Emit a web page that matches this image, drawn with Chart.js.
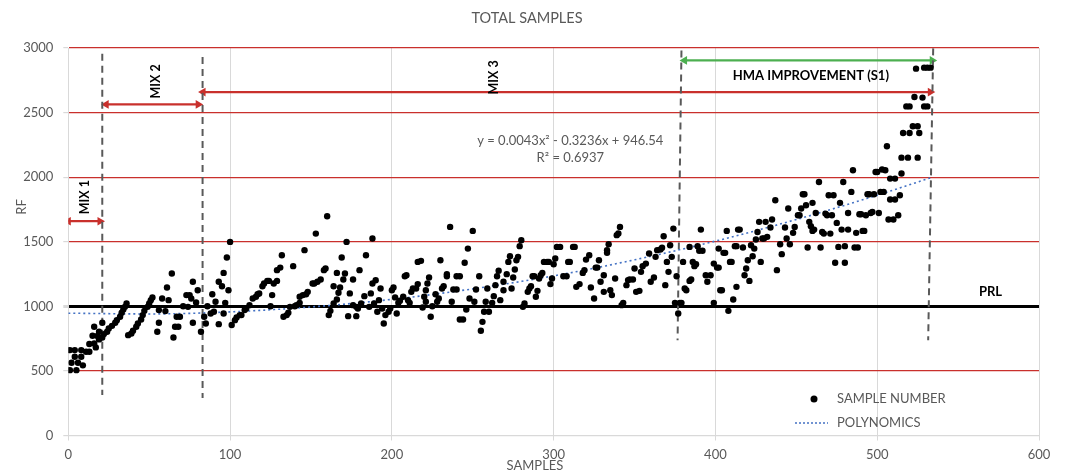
<!DOCTYPE html>
<html>
<head>
<meta charset="utf-8">
<script src="https://cdn.jsdelivr.net/npm/chart.js@4.4.0/dist/chart.umd.min.js"></script>
<style>
body{margin:0;background:#fff;}
#wrap{width:1065px;height:474px;position:relative;}
</style>
</head>
<body>
<div id="wrap"><canvas id="myChart"></canvas></div>
<script>
// [sample number, RF]
var samples = [
 [1,506],[5,506],[2,563],[6,563],[9,543],[4,610],[8,610],[1,661],[4,661],[8,661],[11,648],[13,648],[13,708],[16,713],[17,682],[15,772],[18,770],[16,842],[21,873],[19,803],
 [19,744],[21,759],[22,785],[24,803],[25,829],[27,849],[29,873],[30,893],[32,919],[33,950],[34,976],[35,996],[36,1022],
 [37,777],[39,790],[40,811],[42,842],[43,867],[45,898],[46,932],[47,965],[49,996],[50,1022],[51,1048],[52,1069],
 [55,803],[56,873],[56,971],[58,1061],[60,963],[62,1048],[61,1146],[64,1254],[66,842],[68,842],[65,759],[67,919],[69,919],[71,1001],[74,996],[73,1087],[75,1087],[76,1061],[77,1190],[79,1030],[77,873],[82,803],[80,1125],
 [84,919],[85,867],[86,1001],[88,945],[90,958],[89,1094],[91,1035],[93,1190],[93,862],[95,1156],[96,945],[96,1259],[97,1027],[98,1378],[99,1125],[100,1499],[101,855],[103,893],[104,914],[106,932],[107,932],[109,971],[110,983],[112,1009],[114,1061],[116,1074],[117,1094],[118,1100],[120,1156],[121,1177],[123,1197],[124,1197],[125,1001],[126,1087],[127,1177],[129,1197],[129,1280],[131,1300],[132,1396],[133,919],[135,932],[136,950],[137,996],[139,1311],[140,1001],[141,1009],[143,1027],[143,1074],[145,1087],[146,1435],[147,1094],[148,1112],[151,1177],[152,1177],[153,1563],[154,1190],[156,1208],[158,1280],[159,1293],[160,1698],[161,932],[162,965],[164,1156],[164,1022],[166,1053],[166,1259],[167,1105],[168,1146],[169,1378],[170,1208],[171,1254],[172,1499],[173,924],[174,1100],
 [176,1208],[178,924],[176,1009],[178,996],[179,983],[180,1280],[181,1022],[183,1079],[184,1396],[186,996],[187,1100],[188,1177],[188,1525],[189,1022],[190,1202],[191,958],[192,1048],[193,1138],[194,983],[195,867],[196,932],[198,958],[199,983],[200,1125],[201,1146],[202,1069],[203,945],[204,1027],[205,1043],[207,1074],[208,1233],[209,1241],[210,1048],[211,1027],[212,1112],[213,1138],[215,1138],[216,1172],[216,1344],[218,1352],[219,991],[220,1074],[221,1035],[221,1125],[222,1177],[223,1223],[224,919],[225,1001],[227,1094],[228,1035],[229,1061],[230,1357],[231,1138],[232,1156],[234,1233],[234,1249],[236,1615],[237,1035],[238,1130],[240,1130],[240,1233],[242,1233],[242,898],[244,898],[245,1337],[246,976],[247,1447],[248,1061],[250,1584],[251,1035],[252,1130],[254,1233],
 [255,811],[256,880],[257,958],[258,1035],[259,1138],[260,958],[262,1027],[263,1079],[264,1164],[265,1233],[266,1275],[267,1048],[269,1125],[269,1190],[271,1249],[272,1344],[273,1388],[274,1138],[275,1223],[276,1285],[277,1357],[278,1383],[279,1466],[280,1512],[281,996],[282,1022],[284,1112],[285,1138],[286,1156],[287,1233],[288,1233],[289,1074],[290,1120],[291,1215],[292,1241],[293,1259],[294,1344],[296,1344],[297,1344],[298,1172],[299,1215],[300,1326],[301,1370],[302,1460],[304,1460],[306,1233],[308,1233],[309,1344],[310,1344],[312,1460],[313,1460],[314,1151],[316,1172],[318,1259],[319,1280],[320,1362],[322,1396],[323,1146],[325,1061],[326,1300],[327,1300],[328,1357],[329,1190],[331,1241],[331,1112],[333,1414],[333,1435],[334,1481],[335,1125],[336,1087],[338,1215],[339,1551],[340,1564],[341,1615],[342,1009],[343,1027],[345,1164],[346,1203],
 [347,1208],[349,1208],[350,1293],[351,1112],[353,1120],[354,1267],[355,1311],[357,1331],[359,1409],[360,1190],[362,1223],[363,1383],[364,1435],[366,1440],[367,1453],[368,1543],[369,1164],[370,1344],[371,1267],[372,1473],[373,1383],[374,1602],[375,1027],[376,1233],[377,945],[378,1027],[379,1027],[380,1344],[381,1138],[382,1125],[384,1460],[384,1197],[385,1208],[386,1344],[387,1311],[388,1326],[389,1466],[390,1430],[391,1594],[392,1430],[394,1241],[395,1190],[397,1241],[399,1027],[399,1331],[401,1300],[402,1300],[402,1447],[403,1125],[404,1125],[405,1414],[406,1414],[407,1584],[408,965],[409,1344],[410,1344],[411,1053],[412,1466],[413,1466],[413,1151],[414,1594],[415,1594],[417,1455],[418,1241],[419,1293],[420,1357],[421,1197],[422,1473],[423,1388],[424,1447],[425,1517],[426,1576],
 [427,1654],[428,1344],[429,1525],[430,1525],[431,1654],[432,1538],[434,1610],
 [435,1672],[437,1821],[438,1280],[440,1481],[441,1404],[443,1610],[444,1525],[445,1757],[446,1481],[448,1569],[449,1615],[451,1705],[452,1705],[453,1757],[454,1868],[455,1868],[456,1783],[457,1455],[458,1654],[459,1620],[460,1584],[460,1801],[461,1594],[462,1723],[464,1963],[465,1455],[466,1576],[467,1563],[468,1718],[469,1705],[470,1860],[471,1563],[472,1705],[473,1860],[474,1337],[475,1646],[476,1460],[477,1801],[478,1594],[479,1963],[480,1466],[480,1337],[482,1594],[482,1723],[484,1886],[485,2053],[486,1455],[487,1569],[488,1455],[489,1713],[490,1713],[491,1584],[492,1584],[493,1705],[494,1868],[495,1868],[496,1723],[497,1731],[498,1868],[499,2040],[500,2040],[501,1723],[502,1886],[504,1886],
 [524,2840],[529,2848],[531,2848],[533,2848],[523,2621],[528,2616],[518,2548],[520,2548],[529,2548],[531,2548],[522,2394],[525,2394],[516,2342],[520,2342],[526,2342],[506,2239],[515,2151],[519,2151],[525,2151],[503,2059],[505,2053],[508,1989],[511,1989],[515,2028],[508,1827],[511,1827],[514,1860],[507,1672],[510,1672],[513,1705]
];

// polynomial trendline
var trendX = [0, 50, 100, 150, 200, 250, 300, 350, 400, 450, 500, 533];
var trendY = [947, 941, 957, 995, 1054, 1135, 1236, 1360, 1505, 1672, 1860, 1995];

var xTicks = [0, 100, 200, 300, 400, 500, 600];
var yTicks = [0, 500, 1000, 1500, 2000, 2500, 3000];

// dashed mix boundaries [x top, y top, x bottom, y bottom]
var boundaries = [
  [21, 2956, 21, 313],
  [83, 2930, 83, 290],
  [379, 2981, 376.6, 738],
  [534.6, 2997, 531.5, 738]
];
// arrows [x from, x to, y]
var mixArrows = [
  [0, 19.6, 1659],
  [23.4, 80.3, 2563],
  [83.3, 532.8, 2659]
];
var hmaArrow = [380.9, 534, 2904];

var gray = '#595959';
var red = '#c9302c';
var font = 'Lato, "Open Sans", sans-serif';

function pts(xs, ys) { return xs.map(function (x, k) { return {x: x, y: ys[k]}; }); }

var datasets = [];
datasets.push({
  label: 'SAMPLE NUMBER',
  data: samples.map(function (p) { return {x: p[0], y: p[1]}; }),
  backgroundColor: '#000', borderColor: '#000', borderWidth: 0,
  pointRadius: 3.2, pointHoverRadius: 3.2
});
datasets.push({
  label: 'POLYNOMICS',
  data: pts(trendX, trendY),
  showLine: true, borderColor: '#4472c4', borderWidth: 1.6, borderDash: [2, 3],
  pointRadius: 0, cubicInterpolationMode: 'monotone'
});
boundaries.forEach(function (b) {
  datasets.push({
    data: [{x: b[0], y: b[1]}, {x: b[2], y: b[3]}],
    showLine: true, borderColor: gray, borderWidth: 2, borderDash: [7, 5], pointRadius: 0
  });
});
function arrow(a, col) {
  return {
    data: [{x: a[0], y: a[2]}, {x: a[1], y: a[2]}],
    showLine: true, borderColor: col, backgroundColor: col, borderWidth: 2.2,
    pointStyle: 'triangle', pointRadius: 5, rotation: [-90, 90], pointBorderWidth: 0
  };
}
mixArrows.forEach(function (a) { datasets.push(arrow(a, red)); });
datasets.push(arrow(hmaArrow, '#4caf50'));

function vtext(c, str, x, y) {
  c.save(); c.translate(x, y); c.rotate(-Math.PI / 2); c.fillText(str, 0, 0); c.restore();
}

var textPlugin = {
  id: 'texts',
  afterDraw: function (chart) {
    var c = chart.ctx, xs = chart.scales.x, ys = chart.scales.y;
    c.save();
    c.textAlign = 'center'; c.textBaseline = 'middle';
    c.fillStyle = gray;
    c.font = '14.5px ' + font;
    c.fillText('TOTAL SAMPLES', 527, 18);
    c.font = '13px ' + font;
    vtext(c, 'RF', 22, 207);
    c.fillText('SAMPLES', 535, 466);
    c.fillText('y = 0.0043x\u00b2 - 0.3236x + 946.54', xs.getPixelForValue(310.3), ys.getPixelForValue(2285));
    c.fillText('R\u00b2 = 0.6937', xs.getPixelForValue(310.3), ys.getPixelForValue(2150));

    c.fillStyle = '#000';
    c.font = 'bold 12.5px ' + font;
    vtext(c, 'MIX 1', xs.getPixelForValue(10.4), ys.getPixelForValue(1845));
    vtext(c, 'MIX 2', xs.getPixelForValue(54.3), ys.getPixelForValue(2741));
    vtext(c, 'MIX 3', xs.getPixelForValue(263.4), ys.getPixelForValue(2772));
    c.font = 'bold 13px ' + font;
    c.fillText('HMA IMPROVEMENT (S1)', xs.getPixelForValue(459), ys.getPixelForValue(2788));
    c.fillText('PRL', xs.getPixelForValue(570), ys.getPixelForValue(1110));

    // legend
    c.beginPath(); c.arc(814, 399, 3.5, 0, Math.PI * 2); c.fill();
    c.strokeStyle = '#4472c4'; c.lineWidth = 1.5; c.setLineDash([2, 2]);
    c.beginPath(); c.moveTo(795, 423); c.lineTo(828, 423); c.stroke();
    c.setLineDash([]);
    c.fillStyle = gray; c.textAlign = 'left'; c.font = '13px ' + font;
    c.fillText('SAMPLE NUMBER', 837, 399);
    c.fillText('POLYNOMICS', 837, 423);
    c.restore();
  }
};

var ctx = document.getElementById('myChart').getContext('2d');
var myChart = new Chart(ctx, {
  type: 'scatter',
  data: {datasets: datasets},
  plugins: [textPlugin],
  options: {
    responsive: true, maintainAspectRatio: false, animation: false,
    layout: {padding: {top: 48, right: 26, left: 0, bottom: 0}},
    plugins: {legend: {display: false}, tooltip: {enabled: false}, title: {display: false}},
    scales: {
      x: {
        type: 'linear', min: 0, max: 600,
        afterBuildTicks: function (s) { s.ticks = xTicks.map(function (v) { return {value: v}; }); },
        afterFit: function (s) { s.height = 38.5; },
        ticks: {color: gray, font: {family: font, size: 13}, padding: 7, callback: function (v) { return String(v); }},
        grid: {color: '#d9d9d9', tickColor: '#d9d9d9', tickLength: 5},
        border: {color: '#d9d9d9'}
      },
      y: {
        type: 'linear', min: 0, max: 3000,
        afterBuildTicks: function (s) { s.ticks = yTicks.map(function (v) { return {value: v}; }); },
        afterFit: function (s) { s.width = 68.3; },
        ticks: {color: gray, font: {family: font, size: 13}, padding: 10, callback: function (v) { return String(v); }},
        grid: {
          color: function (c) { return c.tick.value === 1000 ? '#000' : (c.tick.value === 0 ? '#d9d9d9' : red); },
          lineWidth: function (c) { return c.tick.value === 1000 ? 3 : 1.2; },
          tickColor: '#d9d9d9', tickLength: 5
        },
        border: {color: '#d9d9d9'}
      }
    }
  }
});
</script>
</body>
</html>
